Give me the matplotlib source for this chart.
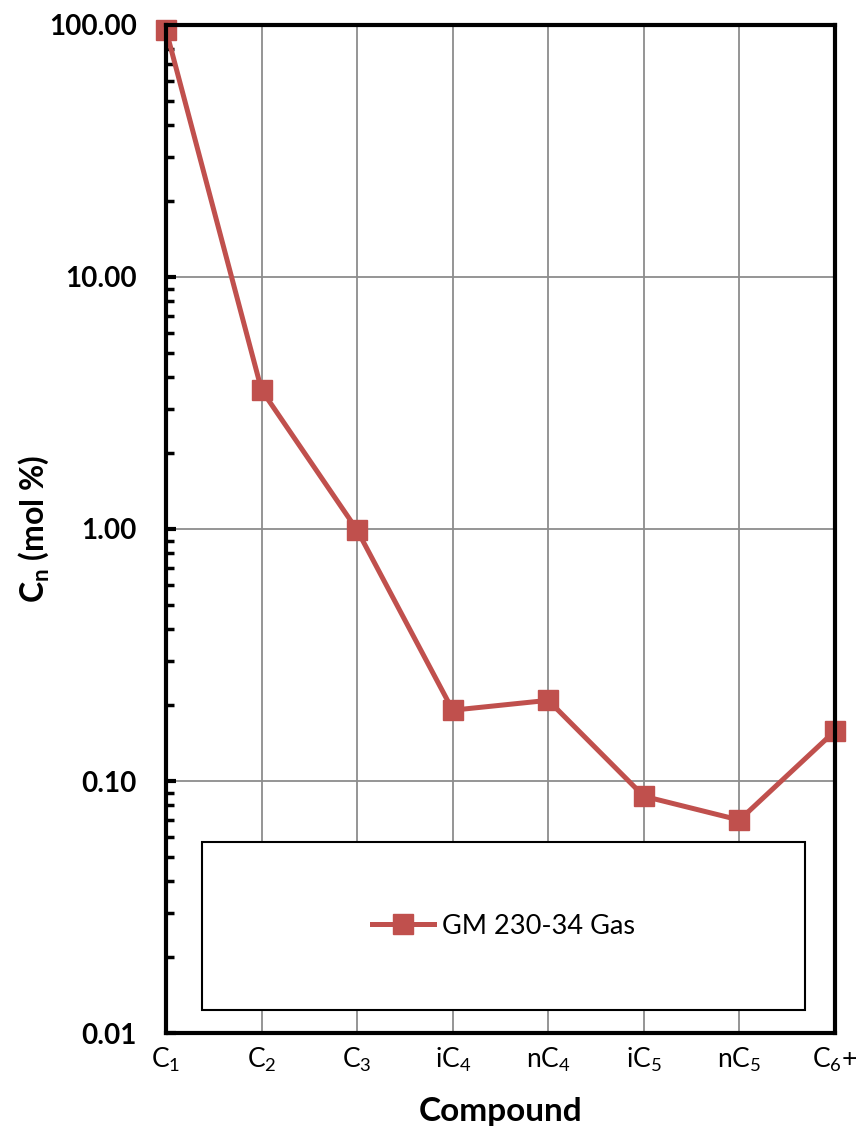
import matplotlib.pyplot as plt
from matplotlib.patches import Rectangle
from matplotlib.ticker import LogLocator, FormatStrFormatter, NullFormatter

plt.rcParams['font.family'] = ['Lato', 'DejaVu Sans']
plt.rcParams['mathtext.fontset'] = 'custom'
plt.rcParams['mathtext.rm'] = 'Lato'
plt.rcParams['mathtext.bf'] = 'Lato:bold'

compounds = ['$\\mathregular{C_1}$', '$\\mathregular{C_2}$', '$\\mathregular{C_3}$',
             '$\\mathregular{iC_4}$', '$\\mathregular{nC_4}$', '$\\mathregular{iC_5}$',
             '$\\mathregular{nC_5}$', '$\\mathregular{C_6}$+']
mol_pct = [95.5, 3.56, 0.99, 0.191, 0.209, 0.087, 0.070, 0.158]

red = '#C0504D'

fig = plt.figure(figsize=(8.57, 11.29), dpi=100)
ax = fig.add_axes([0.1937, 0.085, 0.7806, 0.8929])

x = list(range(len(compounds)))
ax.plot(x, mol_pct, color=red, lw=3.6, marker='s', ms=14, label='GM 230-34 Gas',
        clip_on=False, zorder=5)

ax.set_yscale('log')
ax.set_ylim(0.01, 100)
ax.set_xlim(0, len(compounds) - 1)
ax.set_xticks(x)
ax.set_xticklabels(compounds, fontsize=19)
ax.yaxis.set_major_locator(LogLocator(base=10))
ax.yaxis.set_major_formatter(FormatStrFormatter('%.2f'))
ax.yaxis.set_minor_locator(LogLocator(base=10, subs=range(2, 10)))
ax.yaxis.set_minor_formatter(NullFormatter())
for lab in ax.get_yticklabels():
    lab.set_fontweight('bold')
    lab.set_fontsize(20)

ax.tick_params(axis='y', which='major', direction='in', length=7, width=3, pad=21)
ax.tick_params(axis='y', which='minor', direction='in', length=6, width=2.5)
ax.tick_params(axis='x', length=0, pad=9)

ax.grid(True, which='major', color='#8c8c8c', lw=1.3)
for s in ax.spines.values():
    s.set_linewidth(3)
    s.set_zorder(6)

ax.set_xlabel('Compound', fontsize=24, fontweight='bold')
ax.xaxis.set_label_coords(0.5, -0.063)
ax.set_ylabel('C$_{\\mathbf{n}}$ (mol %)', fontsize=23, fontweight='bold')
ax.yaxis.set_label_coords(-0.172, 0.5)

# legend box
ax.add_patch(Rectangle((0.054, 0.0228), 0.901, 0.1667, transform=ax.transAxes,
                       facecolor='white', edgecolor='black', lw=1.5, zorder=7))
leg = ax.legend(loc='center', bbox_to_anchor=(0.054 + 0.4505, 0.0228 + 0.0833),
                frameon=False, fontsize=19.5, handlelength=2.3, handletextpad=0.3)
leg.set_zorder(8)

plt.savefig('out.png')
